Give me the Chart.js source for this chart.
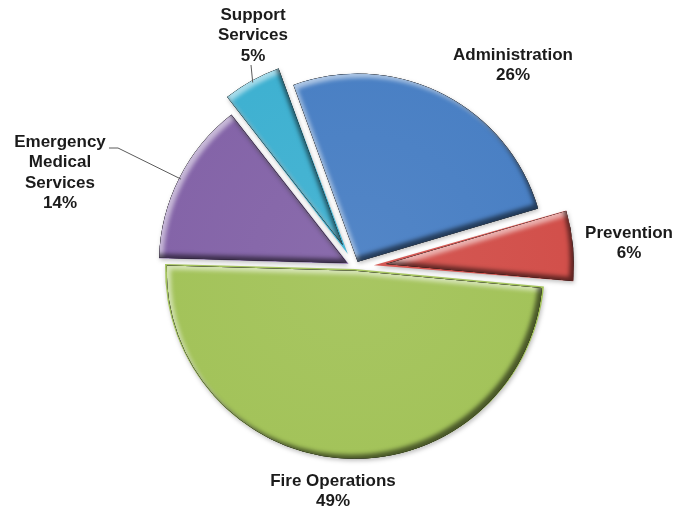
<!DOCTYPE html>
<html>
<head>
<meta charset="utf-8">
<title>Budget by Division</title>
<script src="https://cdn.jsdelivr.net/npm/chart.js@4.4.1/dist/chart.umd.min.js"></script>
<style>
  html, body { margin: 0; background: #fff; }
  #wrap { width: 677px; height: 512px; }
</style>
</head>
<body>
<div id="wrap"><canvas id="budgetChart"></canvas></div>
<script>
// budget share per division (percent)
const divisions = ["Administration", "Prevention", "Fire Operations", "Emergency Medical Services", "Support Services"];
const labelLines = [["Administration"], ["Prevention"], ["Fire Operations"], ["Emergency", "Medical", "Services"], ["Support", "Services"]];
const shares = [26, 6, 49, 14, 5];

const sliceColors = ["#4a80c4", "#d2504b", "#a3c35a", "#8464a8", "#3fb1d1"];
const explode = [24, 76, 8, 29, 59];

// text placement, with optional leader line points
const labelSpots = [
  { x: 513, y: 55 },
  { x: 629, y: 233 },
  { x: 333, y: 481 },
  { x: 60, y: 142, leader: [[109, 148], [118, 148]] },
  { x: 253, y: 15, leader: [[251, 65]] }
];

function lighten(hex, amt) {
  const n = parseInt(hex.slice(1), 16);
  const r = (n >> 16) & 255, g = (n >> 8) & 255, b = n & 255;
  const f = (c) => Math.round(c + (255 - c) * amt);
  return `rgb(${f(r)},${f(g)},${f(b)})`;
}

function sliceFill(context) {
  const chart = context.chart;
  const area = chart.chartArea;
  const i = context.dataIndex;
  if (!area) return sliceColors[i];
  const cx = (area.left + area.right) / 2;
  const cy = (area.top + area.bottom) / 2;
  const g = chart.ctx.createRadialGradient(cx, cy, 0, cx, cy, 188);
  g.addColorStop(0, lighten(sliceColors[i], 0.05));
  g.addColorStop(1, sliceColors[i]);
  return g;
}

// how far Chart.js shifts an exploded arc
function arcShift(el) {
  const off = (el.options.offset || 0) / 4;
  const fix = 1 - Math.sin(Math.min(Math.PI, el.circumference || 0));
  return off + off * fix;
}

function slicePath(ctx, el) {
  ctx.beginPath();
  ctx.moveTo(el.x, el.y);
  ctx.arc(el.x, el.y, el.outerRadius, el.startAngle, el.endAngle);
  ctx.closePath();
}

// inner shadow: paint everything outside the slice, keep only its shadow inside
function innerShadow(ctx, el, color, dx, dy, blur) {
  ctx.save();
  slicePath(ctx, el);
  ctx.clip();
  ctx.beginPath();
  ctx.rect(-2000, -2000, 5000, 5000);
  ctx.moveTo(el.x, el.y);
  ctx.arc(el.x, el.y, el.outerRadius, el.startAngle, el.endAngle);
  ctx.closePath();
  ctx.shadowColor = color;
  ctx.shadowBlur = blur;
  ctx.shadowOffsetX = dx;
  ctx.shadowOffsetY = dy;
  ctx.fillStyle = "#000";
  ctx.fill("evenodd");
  ctx.restore();
}

const bevelPlugin = {
  id: "bevel",
  beforeDatasetsDraw(chart) {
    const ctx = chart.ctx;
    ctx.save();
    ctx.shadowColor = "rgba(0,0,0,0.25)";
    ctx.shadowBlur = 4;
    ctx.shadowOffsetX = 1;
    ctx.shadowOffsetY = 2;
  },
  afterDatasetsDraw(chart) {
    const ctx = chart.ctx;
    ctx.restore();
    chart.getDatasetMeta(0).data.forEach((el) => {
      const mid = (el.startAngle + el.endAngle) / 2;
      const s = arcShift(el);
      ctx.save();
      ctx.translate(Math.cos(mid) * s, Math.sin(mid) * s);
      innerShadow(ctx, el, "rgba(255,255,255,0.55)", 4, 4, 4);
      innerShadow(ctx, el, "rgba(0,0,0,0.55)", -4, -4, 4);
      ctx.restore();
    });
  },
  afterDraw(chart) {
    const ctx = chart.ctx;
    const arcs = chart.getDatasetMeta(0).data;
    ctx.save();
    ctx.font = "bold 17px 'Liberation Sans', Arial, sans-serif";
    ctx.fillStyle = "#1b1b1b";
    ctx.textAlign = "center";
    ctx.textBaseline = "middle";
    labelSpots.forEach((spot, i) => {
      const lines = labelLines[i].concat([shares[i] + "%"]);
      lines.forEach((t, k) => ctx.fillText(t, spot.x, spot.y + k * 20.5));
      if (spot.leader) {
        const el = arcs[i];
        const mid = (el.startAngle + el.endAngle) / 2;
        const r = el.outerRadius + arcShift(el) - 2;
        ctx.beginPath();
        ctx.moveTo(spot.leader[0][0], spot.leader[0][1]);
        spot.leader.slice(1).forEach((p) => ctx.lineTo(p[0], p[1]));
        ctx.lineTo(el.x + Math.cos(mid) * r, el.y + Math.sin(mid) * r);
        ctx.strokeStyle = "#5a5a5a";
        ctx.lineWidth = 1;
        ctx.stroke();
      }
    });
    ctx.restore();
  }
};

new Chart(document.getElementById("budgetChart"), {
  type: "pie",
  data: {
    labels: divisions,
    datasets: [{
      data: shares,
      backgroundColor: sliceFill,
      borderWidth: 0,
      offset: explode,
      radius: 188
    }]
  },
  options: {
    responsive: true,
    maintainAspectRatio: false,
    animation: false,
    rotation: -20,
    layout: { padding: { left: 33, top: 22, right: 0, bottom: 0 } },
    plugins: {
      legend: { display: false },
      tooltip: { enabled: false }
    }
  },
  plugins: [bevelPlugin]
});
</script>
</body>
</html>
